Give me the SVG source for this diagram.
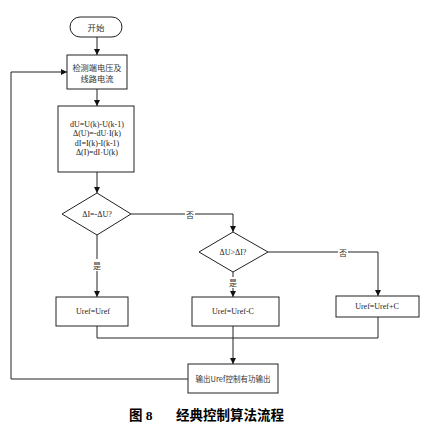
<svg xmlns="http://www.w3.org/2000/svg" width="427" height="426" viewBox="0 0 427 426">
<defs>
<marker id="arr" viewBox="0 0 10 10" refX="10" refY="5" markerWidth="6" markerHeight="6" orient="auto" markerUnits="userSpaceOnUse">
<path d="M0,0 L10,5 L0,10 z" fill="#111"/>
</marker>
<style>
.n{fill:#fff;stroke:#222;stroke-width:1}
.c{fill:none;stroke:#222;stroke-width:1}
.a{marker-end:url(#arr)}
.t{font-family:"Liberation Serif","Noto Sans CJK SC",serif;font-size:8px;fill:#222;text-anchor:middle;dominant-baseline:central}
.z{font-family:"Noto Sans CJK SC","Liberation Serif",serif;font-size:8px;fill:#333;text-anchor:middle;dominant-baseline:central}
.lb{fill:#fff;stroke:none}
.cap{font-family:"Liberation Serif","Noto Sans CJK SC",serif;font-size:13.5px;font-weight:bold;fill:#000}
</style>
</defs>
<rect width="427" height="426" fill="#fff"/>
<g id="connectors">
<path class="c a" d="M97,37 V55"/>
<path class="c a" d="M97,89 V106"/>
<path class="c a" d="M97,172 V193"/>
<path class="c a" d="M97,235 V297"/>
<path class="c a" d="M131,214 H233 V232"/>
<path class="c a" d="M233,272 V297"/>
<path class="c a" d="M268,252 H378 V296"/>
<path class="c" d="M97,326 V338 H378 V317"/>
<path class="c a" d="M233,326 V364"/>
<path class="c a" d="M188,379 H11 V72 H67"/>
<rect class="lb" x="92" y="259" width="10" height="12"/>
<text class="z" x="97" y="265">是</text>
<rect class="lb" x="185" y="208" width="10" height="12"/>
<text class="z" x="190" y="214">否</text>
<rect class="lb" x="228" y="277" width="10" height="11"/>
<text class="z" x="233" y="282">是</text>
<rect class="lb" x="338" y="246" width="10" height="12"/>
<text class="z" x="343" y="252">否</text>
</g>
<g id="start">
<rect class="n" x="70" y="17" width="52" height="20" rx="10"/>
<text class="z" x="96" y="27" style="font-size:8.5px">开始</text>
</g>
<g id="measure">
<rect class="n" x="67" y="55" width="60" height="34"/>
<text class="z" x="97" y="66.5" style="font-size:8.2px">检测端电压及</text>
<text class="z" x="97" y="77.5" style="font-size:8.2px">线路电流</text>
</g>
<g id="compute">
<rect class="n" x="58" y="106" width="76" height="66"/>
<text class="t" x="97" y="124">dU=U(k)-U(k-1)</text>
<text class="t" x="97" y="133.5">Δ(U)=-dU·I(k)</text>
<text class="t" x="97" y="143">dI=I(k)-I(k-1)</text>
<text class="t" x="97" y="152.5">Δ(I)=dI·U(k)</text>
</g>
<g id="decision1">
<polygon class="n" points="97,193 131,214 97,235 62,214"/>
<text class="t" x="97" y="214">ΔI=-ΔU?</text>
</g>
<g id="decision2">
<polygon class="n" points="233,232 268,252 233,272 199,252"/>
<text class="t" x="233" y="252">ΔU&gt;ΔI?</text>
</g>
<g id="keep">
<rect class="n" x="56" y="297" width="72" height="29"/>
<text class="t" x="93" y="311">Uref=Uref</text>
</g>
<g id="decrease">
<rect class="n" x="192" y="297" width="87" height="29"/>
<text class="t" x="233" y="311">Uref=Uref-C</text>
</g>
<g id="increase">
<rect class="n" x="336" y="296" width="83" height="21"/>
<text class="t" x="377" y="306">Uref=Uref+C</text>
</g>
<g id="output">
<rect class="n" x="188" y="364" width="90" height="29"/>
<text class="z" x="233" y="378" style="font-size:7.5px">输出Uref控制有功输出</text>
</g>
<g id="caption">
<text class="cap" x="129" y="420">图 8</text>
<text class="cap" x="176" y="420">经典控制算法流程</text>
</g>
</svg>
